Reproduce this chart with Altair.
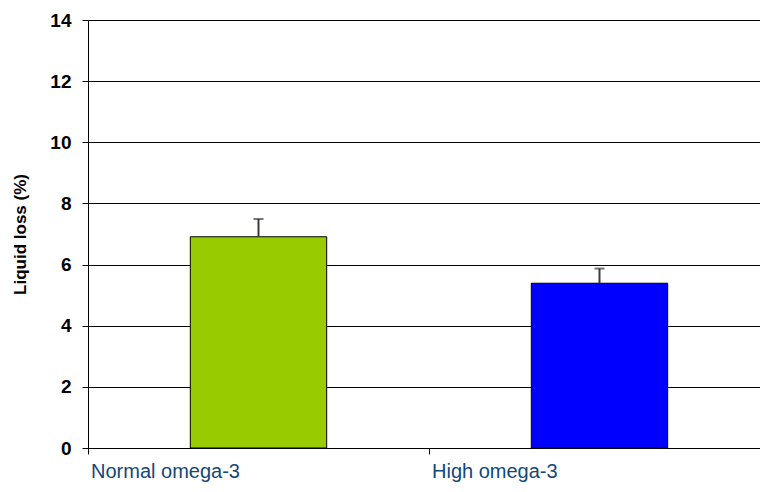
import altair as alt
import pandas as pd

categories = ["Normal omega-3", "High omega-3"]
values = [6.91, 5.39]
err_top = [7.49, 5.87]
colors = ["#99CC00", "#0000FF"]

df = pd.DataFrame({"group": categories, "value": values, "top": err_top, "color": colors})

x = alt.X("group:N", sort=categories, title=None,
          scale=alt.Scale(paddingInner=0, paddingOuter=0, range=[0, 682]))
y = alt.Y("value:Q", scale=alt.Scale(domain=[0, 14], nice=False), title="Liquid loss (%)",
          axis=alt.Axis(values=list(range(0, 15, 2))))

base = alt.Chart(df)
bars = base.mark_bar(width=alt.RelativeBandSize(0.4), stroke="#000000", strokeWidth=1).encode(
    x=x, y=y, color=alt.Color("color:N", scale=None))
rules = base.mark_rule(color="#3a3a3a", strokeWidth=2).encode(
    x=alt.X("group:N", sort=categories), y="value:Q", y2="top:Q")
caps = base.mark_tick(color="#3a3a3a", thickness=2, size=10).encode(
    x=alt.X("group:N", sort=categories), y="top:Q")

chart = alt.layer(bars, rules, caps).properties(
    width=672, height=428,
    autosize=alt.AutoSizeParams(type="none"),
    padding={"left": 80, "top": 12, "right": 0, "bottom": 36},
    background="#FFFFFF",
).configure_view(stroke=None).configure_axis(
    domainColor="#000000", tickColor="#000000", tickSize=6,
).configure_axisY(
    titleFont="Liberation Sans", titleFontSize=17, titleFontWeight="bold",
    titleColor="#000000", titlePadding=20,
    labelFont="Liberation Sans", labelFontSize=19, labelFontWeight="bold",
    labelColor="#000000", labelPadding=11,
    grid=True, gridColor="#000000", gridWidth=1,
).configure_axisX(
    labelAngle=0, labelAlign="left", bandPosition=0, labelBaseline="top",
    labelOffset=-167.5,
    labelColor="#12477A", labelFont="Liberation Sans", labelFontSize=20,
    labelPadding=7, grid=False,
)

chart.save("out.html", embed_options={"renderer": "svg", "actions": False})
